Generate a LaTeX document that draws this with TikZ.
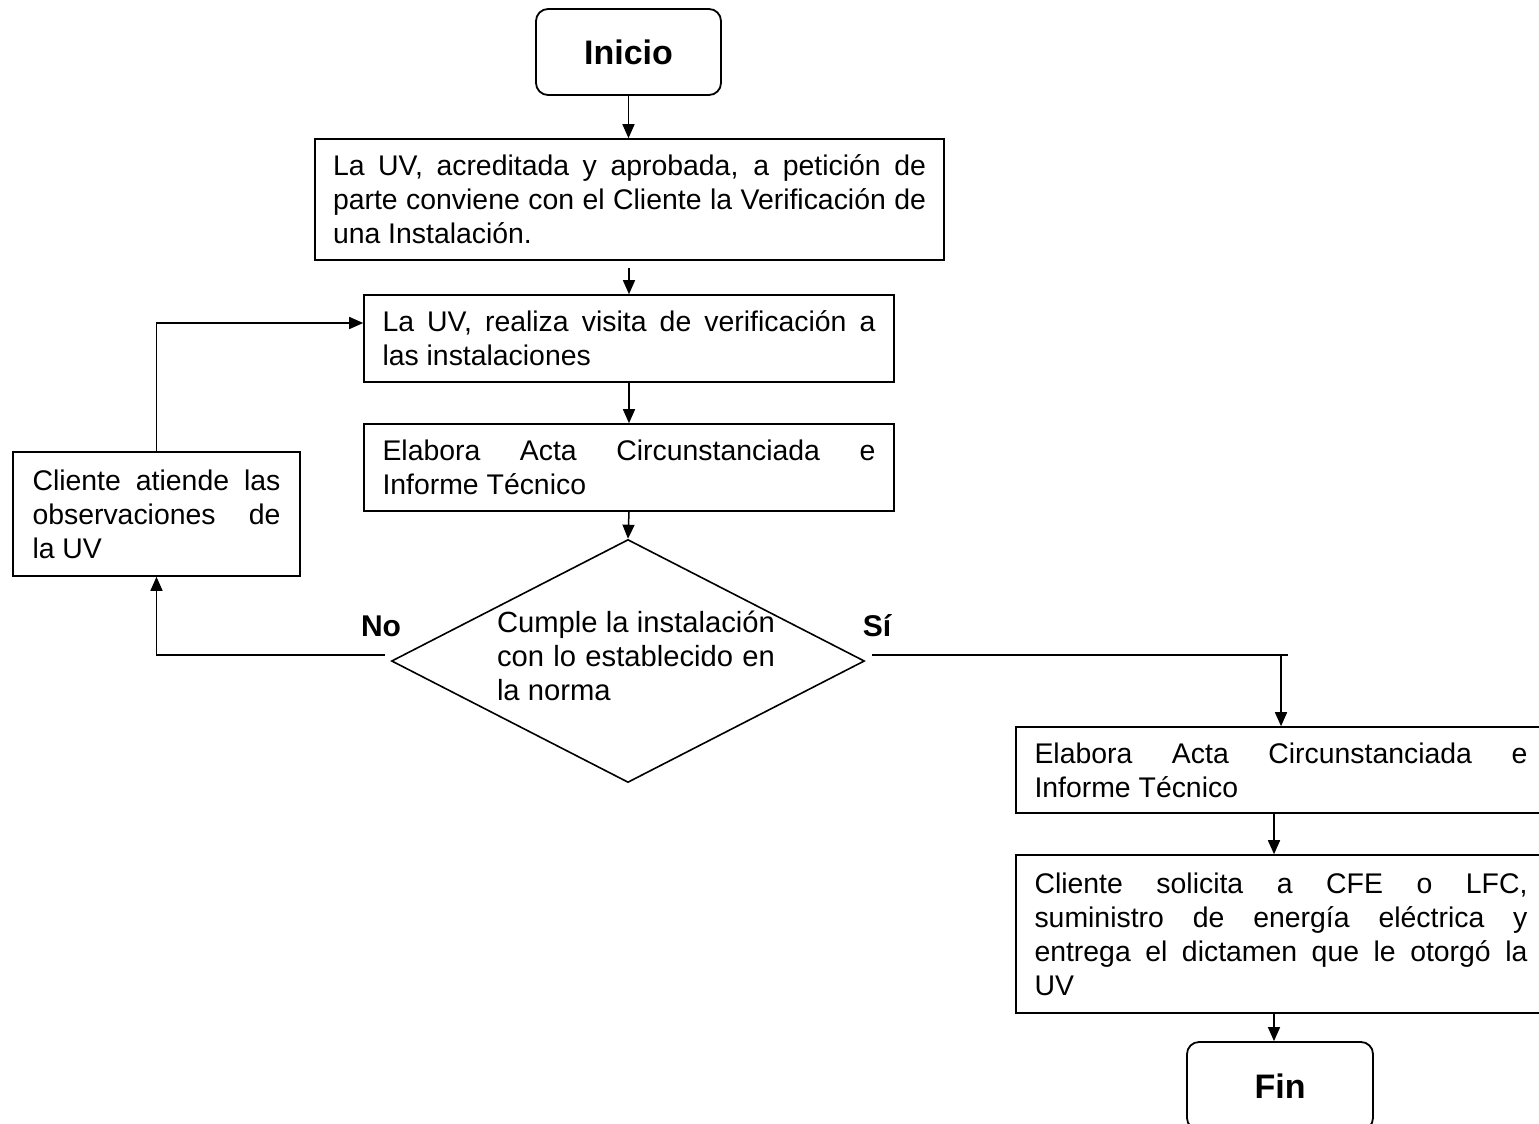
\documentclass[tikz,border=0pt]{standalone}
\usepackage{fontspec}
\setmainfont{Liberation Sans}
\usetikzlibrary{shapes.geometric,arrows.meta}
\setlength{\parindent}{0pt}
\newcommand{\jl}[2]{\hbox to #1pt{#2}}
\newcommand{\lastl}[2]{\hbox to #1pt{#2\hfil}}
\begin{document}
\begin{tikzpicture}[x=1pt,y=-1pt,
  every node/.style={font=\fontsize{28.4}{34}\selectfont},
  box/.style={draw, line width=1.6pt, inner sep=0pt, align=left},
  term/.style={draw, line width=1.8pt, rounded corners=12pt, inner sep=0pt, font=\fontsize{34}{40}\selectfont\bfseries},
  arr/.style={line width=1.5pt, -{Triangle[length=14pt,width=12pt]}},
  conn/.style={line width=1.5pt},
  lbl/.style={inner sep=0pt, font=\fontsize{30}{36}\selectfont\bfseries}]
\useasboundingbox (0,0) rectangle (1539,1124);
\clip (0,0) rectangle (1539,1124);

\node[term, minimum width=185pt, minimum height=86pt] (ini) at (628.5,52) {Inicio};

\node[box, minimum width=629pt, minimum height=121pt] (b1) at (629.5,199.5)
  {\jl{593}{La UV, acreditada y aprobada, a petición de}\\
   \jl{593}{parte conviene con el Cliente la Verificación de}\\
   \lastl{593}{una Instalación.}};

\node[box, minimum width=530pt, minimum height=87pt] (b2) at (629,338.5)
  {\jl{493}{La UV, realiza visita de verificación a}\\
   \lastl{493}{las instalaciones}};

\node[box, minimum width=530pt, minimum height=87pt] (b3) at (629,467.5)
  {\jl{493}{Elabora Acta Circunstanciada e}\\
   \lastl{493}{Informe Técnico}};

\node[box, minimum width=287pt, minimum height=124pt] (b4) at (156.5,514)
  {\jl{248}{Cliente atiende las}\\
   \jl{248}{observaciones de}\\
   \lastl{248}{la UV}};

\node[draw, diamond, line width=1.6pt, inner sep=0pt, minimum width=473pt, minimum height=243pt] (d) at (628,661) {};
\node[inner sep=0pt, align=left, font=\fontsize{29.2}{34}\selectfont] (dt) at (636,656)
  {\jl{278}{Cumple la instalación}\\
   \jl{278}{con lo establecido en}\\
   \lastl{278}{la norma}};

\node[lbl] (no) at (381,626) {No};
\node[lbl] (si) at (877,626) {Sí};

\node[box, minimum width=530pt, minimum height=86pt] (b5) at (1281,770)
  {\jl{493}{Elabora Acta Circunstanciada e}\\
   \lastl{493}{Informe Técnico}};

\node[box, minimum width=530pt, minimum height=158pt] (b6) at (1281,934)
  {\jl{493}{Cliente solicita a CFE o LFC,}\\
   \jl{493}{suministro de energía eléctrica y}\\
   \jl{493}{entrega el dictamen que le otorgó la}\\
   \lastl{493}{UV}};

\node[term, minimum width=186pt, minimum height=88pt] (fin) at (1280,1086) {Fin};

% connectors
\draw[arr] (ini.south) -- (ini.south |- b1.north);
\coordinate (c1) at (629,268);
\draw[arr] (c1) -- (b2.north);
\draw[arr] (b2.south) -- (b3.north);
\draw[arr] (b3.south) -- (d.north);
\coordinate (noS) at (385,655);
\draw[arr] (noS) -| (b4.south);
\draw[arr] (b4.north) |- ([yshift=15.5pt]b2.west);
\coordinate (siS) at (872,655);
\coordinate (siE) at (1288,655);
\draw[conn] (siS) -- (siE);
\draw[arr] (b5.north |- siE) -- (b5.north);
\draw[arr] ([xshift=-7pt]b5.south) -- ([xshift=-7pt]b6.north);
\draw[arr] ([xshift=-6pt]fin.north |- b6.south) -- ([xshift=-6pt]fin.north);
\end{tikzpicture}
\end{document}
